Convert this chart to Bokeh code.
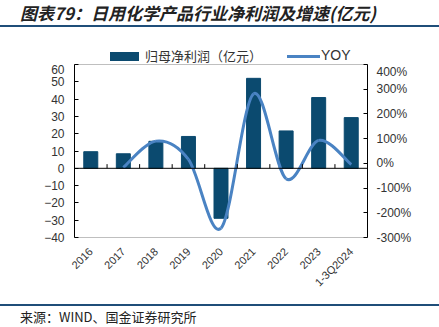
import numpy as np
from bokeh.plotting import figure
from bokeh.layouts import column
from bokeh.models import Range1d, LinearAxis, FixedTicker, NumeralTickFormatter, Span, Div
from bokeh.embed import file_html
from bokeh.resources import INLINE

categories = ["2016", "2017", "2018", "2019", "2020", "2021", "2022", "2023", "1-3Q2024"]
profit = [9.6, 8.4, 15.6, 18.4, -28.9, 52.0, 21.6, 40.9, 29.3]
yoy = [None, -0.17, 0.90, 0.16, -2.62, 2.81, -0.62, 0.93, -0.05]
left_ticks = [-40, -30, -20, -10, 0, 10, 20, 30, 40, 50, 60]
right_ticks = [-3, -2, -1, 0, 1, 2, 3, 4]
title_text = "图表79：日用化学产品行业净利润及增速(亿元)"
source_text = "来源：WIND、国金证券研究所"
series_names = ["归母净利润（亿元）", "YOY"]

W = 439
HEAD_H = 64         # title + rule + legend block
BOT_H = 23          # footer block
FL, FR = 74, 367    # frame left/right (canvas px)
FB = 237            # frame bottom (canvas px)
MAIN_H = 327 - HEAD_H - BOT_H

BAR = "#0b4a6f"
LINE = "#4a83c3"
TXT = "#333333"
RULE = "#1f4e79"
CJK = "Noto Sans CJK SC"

head_html = (
    f'<div style="position:relative;width:{W}px;height:{HEAD_H}px;overflow:hidden;">'
    f'<div style="position:absolute;left:20px;top:0px;height:25px;line-height:25px;white-space:nowrap;'
    f'font-family:\'{CJK}\';font-size:17px;font-weight:bold;font-style:italic;color:#222;">{title_text}</div>'
    f'<div style="position:absolute;left:0;top:25px;width:{W}px;height:2px;background:{RULE};"></div>'
    f'<div style="position:absolute;left:110px;top:52px;width:29px;height:9px;background:{BAR};"></div>'
    f'<div style="position:absolute;left:145px;top:47px;height:17px;line-height:17px;white-space:nowrap;'
    f'font-family:\'{CJK}\';font-size:13px;color:{TXT};">{series_names[0]}</div>'
    f'<div style="position:absolute;left:287px;top:55px;width:33px;height:3px;background:{LINE};"></div>'
    f'<div style="position:absolute;left:321px;top:47px;height:17px;line-height:17px;white-space:nowrap;'
    f'font-family:\'Liberation Sans\';font-size:14px;color:{TXT};">{series_names[1]}</div>'
    f'</div>'
)
head_div = Div(text=head_html, width=W, height=HEAD_H, margin=0)

# main chart
p = figure(width=W, height=MAIN_H, output_backend="svg", toolbar_location=None,
           x_range=Range1d(-0.5, len(categories) - 0.5), y_range=Range1d(-40, 60),
           min_border=0, min_border_left=FL, min_border_right=W - FR, min_border_top=0,
           min_border_bottom=(HEAD_H + MAIN_H) - FB, margin=0)
p.extra_y_ranges = {"yoy": Range1d(-3, 4)}
p.xgrid.visible = False
p.ygrid.visible = False
p.outline_line_color = "#bfbfbf"
p.outline_line_width = 1
p.background_fill_color = "white"
p.border_fill_color = "white"

x = list(range(len(categories)))
p.vbar(x=x, top=profit, width=0.43, color=BAR)

# smooth YOY line (Catmull-Rom bezier through the data points)
pts = [(i, v) for i, v in enumerate(yoy) if v is not None]
x0s, y0s, x1s, y1s, cx0s, cy0s, cx1s, cy1s = [], [], [], [], [], [], [], []
for k in range(len(pts) - 1):
    P0 = pts[k - 1] if k > 0 else pts[k]
    P1 = pts[k]
    P2 = pts[k + 1]
    P3 = pts[k + 2] if k + 2 < len(pts) else pts[k + 1]
    x0s.append(P1[0]); y0s.append(P1[1]); x1s.append(P2[0]); y1s.append(P2[1])
    cx0s.append(P1[0] + (P2[0] - P0[0]) / 6); cy0s.append(P1[1] + (P2[1] - P0[1]) / 6)
    cx1s.append(P2[0] - (P3[0] - P1[0]) / 6); cy1s.append(P2[1] - (P3[1] - P1[1]) / 6)
p.bezier(x0=x0s, y0=y0s, x1=x1s, y1=y1s, cx0=cx0s, cy0=cy0s, cx1=cx1s, cy1=cy1s,
         line_color=LINE, line_width=3, y_range_name="yoy")

# zero line and category boundary ticks
p.add_layout(Span(location=0, dimension="width", line_color="black", line_width=1))
bx = [i + 0.5 for i in range(len(categories) - 1)]
p.segment(x0=bx, y0=[0] * len(bx), x1=bx, y1=[2.4] * len(bx), line_color="black", line_width=1)

# axes
ly = p.yaxis[0]
ly.ticker = FixedTicker(ticks=left_ticks)
ly.axis_line_color = "black"
ly.major_tick_in = 4
ly.major_tick_out = 0
ly.minor_tick_line_color = None
ly.major_tick_line_color = "black"
ly.major_label_text_font = "Liberation Sans"
ly.major_label_text_font_size = "12px"
ly.major_label_text_color = TXT
ly.major_label_standoff = 10

ry = LinearAxis(y_range_name="yoy", ticker=FixedTicker(ticks=right_ticks),
                formatter=NumeralTickFormatter(format="0%"))
ry.axis_line_color = "black"
ry.major_tick_in = 4
ry.major_tick_out = 0
ry.minor_tick_line_color = None
ry.major_label_text_font = "Liberation Sans"
ry.major_label_text_font_size = "12px"
ry.major_label_text_color = TXT
ry.major_label_standoff = 9
p.add_layout(ry, "right")

xa = p.xaxis[0]
xa.ticker = FixedTicker(ticks=x)
xa.major_label_overrides = {i: c for i, c in enumerate(categories)}
xa.major_label_orientation = np.pi / 4
xa.axis_line_color = None
xa.major_tick_line_color = None
xa.minor_tick_line_color = None
xa.major_label_text_font = "Liberation Sans"
xa.major_label_text_font_size = "11px"
xa.major_label_text_color = TXT
xa.major_label_standoff = 6

footer_html = (
    f'<div style="position:relative;width:{W}px;height:{BOT_H}px;overflow:hidden;">'
    f'<div style="position:absolute;left:0;top:0;width:{W}px;height:2px;background:{RULE};"></div>'
    f'<div style="position:absolute;left:20px;top:5px;height:16px;line-height:16px;white-space:nowrap;'
    f'font-family:\'{CJK}\';font-size:13px;color:#222;">{source_text}</div>'
    f'</div>'
)
footer_div = Div(text=footer_html, width=W, height=BOT_H, margin=0)

layout = column(head_div, p, footer_div, spacing=0)
open("out.html", "w").write(file_html(layout, INLINE))
